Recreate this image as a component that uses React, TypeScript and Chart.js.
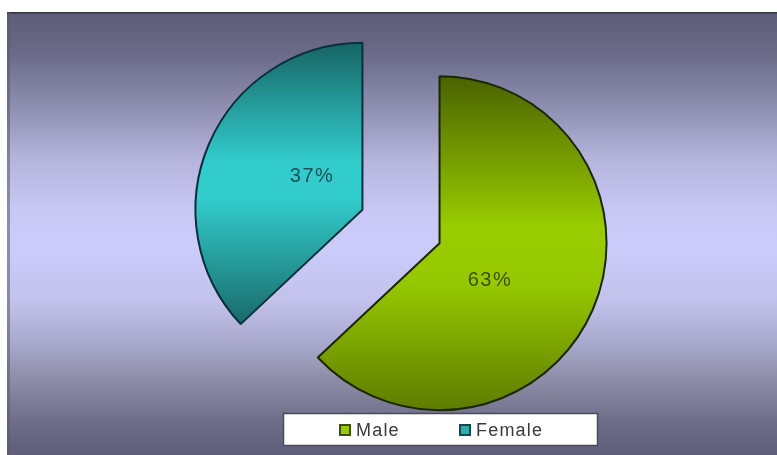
import React, { useEffect, useRef } from "react";
import { Chart, registerables } from "chart.js";

Chart.register(...registerables);

const categories = ["Male", "Female"];
const values = [63, 37];
const percentLabels = ["63%", "37%"];

const EXPLODE = 42; // explode distance in px
const RADIUS = 167;

const sliceStops: [number, string][][] = [
  [
    [0, "#4a6200"],
    [0.45, "#99cc00"],
    [0.62, "#96c800"],
    [1, "#5e7c00"],
  ],
  [
    [0, "#166464"],
    [0.42, "#33cccc"],
    [0.55, "#33cccc"],
    [1, "#1a6a6a"],
  ],
];
const borderColors = ["#1c2600", "#0c2f3c"];
const labelColors = ["#3b5200", "#1c5258"];
const legendFill = ["#99cc00", "#33aaaa"];
const legendBorder = ["#3d5000", "#0f4a52"];

function sliceAngles(i: number) {
  const total = values.reduce((a, b) => a + b, 0);
  let before = 0;
  for (let k = 0; k < i; k++) before += values[k];
  const start = (before / total) * Math.PI * 2;
  const end = start + (values[i] / total) * Math.PI * 2;
  return { start, end, mid: (start + end) / 2 };
}

function gradientFor(context: any) {
  const chart = context.chart;
  const i = context.dataIndex;
  const area = chart.chartArea;
  if (!area || i === undefined) return sliceStops[i || 0][1][1];
  const cy = (area.top + area.bottom) / 2;
  const { start, end, mid } = sliceAngles(i);
  const oy = -Math.cos(mid) * EXPLODE;
  const ys: number[] = [cy + oy];
  const pts = [start, end];
  for (let a = 0; a <= Math.PI * 2 + 0.001; a += Math.PI / 2) {
    if (a >= start && a <= end) pts.push(a);
  }
  pts.forEach((a) => ys.push(cy + oy - Math.cos(a) * RADIUS));
  const top = Math.min(...ys);
  const bottom = Math.max(...ys);
  const g = chart.ctx.createLinearGradient(0, top, 0, bottom);
  sliceStops[i].forEach(([p, c]) => g.addColorStop(p, c));
  return g;
}

const piePlugin = {
  id: "piePlugin",
  afterDatasetUpdate(chart: any) {
    // explode each slice outward along its mid-angle, keeping straight radial edges
    const meta = chart.getDatasetMeta(0);
    meta.data.forEach((arc: any) => {
      const mid = (arc.startAngle + arc.endAngle) / 2;
      arc.x += Math.cos(mid) * EXPLODE;
      arc.y += Math.sin(mid) * EXPLODE;
    });
  },
  beforeDraw(chart: any) {
    const ctx = chart.ctx;
    const w = chart.width;
    const h = chart.height;
    ctx.save();
    ctx.fillStyle = "#ffffff";
    ctx.fillRect(0, 0, w, h);
    const g = ctx.createLinearGradient(0, 12, 0, h);
    g.addColorStop(0, "#5c5c78");
    g.addColorStop(0.1, "#6c6c8a");
    g.addColorStop(0.22, "#9090b2");
    g.addColorStop(0.33, "#b4b4dc");
    g.addColorStop(0.45, "#c8c8f4");
    g.addColorStop(0.53, "#ccccfc");
    g.addColorStop(0.65, "#c2c2ec");
    g.addColorStop(0.75, "#a8a8cc");
    g.addColorStop(0.85, "#86869f");
    g.addColorStop(0.93, "#6c6c88");
    g.addColorStop(1, "#5e5e7a");
    ctx.fillStyle = g;
    ctx.fillRect(7, 12, w - 7, h - 12);
    ctx.fillStyle = "rgba(40,40,60,0.8)";
    ctx.fillRect(7, 12, w - 7, 1.5);
    ctx.fillStyle = "rgba(90,90,110,0.55)";
    ctx.fillRect(7, 12, 3, h - 12);
    ctx.restore();
  },
  afterDatasetsDraw(chart: any) {
    const ctx = chart.ctx;
    const meta = chart.getDatasetMeta(0);
    ctx.save();
    ctx.textAlign = "center";
    ctx.textBaseline = "middle";
    ctx.font = '20px "Liberation Sans", Arial, sans-serif';
    (ctx as any).letterSpacing = "1.5px";
    meta.data.forEach((arc: any, i: number) => {
      const mid = (arc.startAngle + arc.endAngle) / 2 + (12 * Math.PI) / 180;
      const d = 0.37 * arc.outerRadius;
      const x = arc.x + Math.cos(mid) * d;
      const y = arc.y + Math.sin(mid) * d + 2;
      ctx.fillStyle = labelColors[i];
      ctx.fillText(percentLabels[i], x, y);
    });
    ctx.restore();

    // legend
    ctx.save();
    const bx = 283.5, by = 413.5, bw = 314, bh = 32;
    ctx.fillStyle = "#ffffff";
    ctx.fillRect(bx, by, bw, bh);
    ctx.strokeStyle = "#4a4a5a";
    ctx.lineWidth = 1.5;
    ctx.strokeRect(bx, by, bw, bh);
    ctx.font = '18px "Liberation Sans", Arial, sans-serif';
    (ctx as any).letterSpacing = "1.2px";
    ctx.textBaseline = "middle";
    ctx.textAlign = "left";
    const itemX = [339, 459];
    categories.forEach((name, i) => {
      const x = itemX[i];
      const y = 424;
      ctx.fillStyle = legendFill[i];
      ctx.fillRect(x, y, 12, 12);
      ctx.strokeStyle = legendBorder[i];
      ctx.lineWidth = 2;
      ctx.strokeRect(x + 1, y + 1, 10, 10);
      ctx.fillStyle = "#3a3a3a";
      ctx.fillText(name, x + 17, y + 7);
    });
    ctx.restore();
  },
};

export default function App() {
  const canvasRef = useRef<HTMLCanvasElement | null>(null);

  useEffect(() => {
    if (!canvasRef.current) return;
    const chart = new Chart(canvasRef.current, {
      type: "pie",
      data: {
        labels: categories,
        datasets: [
          {
            data: values,
            backgroundColor: gradientFor as any,
            borderColor: borderColors,
            borderWidth: 2,
            offset: 0,
            hoverOffset: 0,
          },
        ],
      },
      options: {
        animation: false,
        responsive: false,
        devicePixelRatio: 1,
        radius: RADIUS,
        layout: { padding: { left: 25, top: 0, right: 0, bottom: 2 } },
        plugins: {
          legend: { display: false },
          tooltip: { enabled: false },
        },
        events: [],
      } as any,
      plugins: [piePlugin],
    });
    return () => chart.destroy();
  }, []);

  return (
    <div style={{ position: "absolute", left: 0, top: 0, width: 777, height: 455 }}>
      <canvas ref={canvasRef} width={777} height={455} style={{ width: 777, height: 455, display: "block" }} />
    </div>
  );
}
